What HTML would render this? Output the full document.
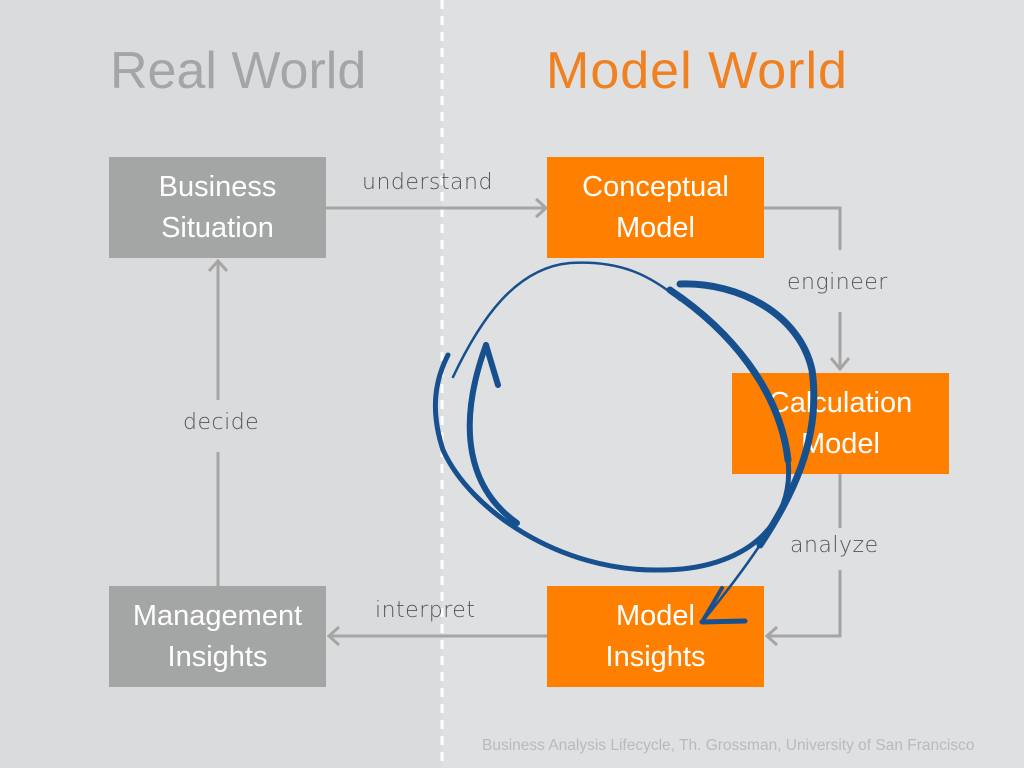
<!DOCTYPE html>
<html><head><style>
html,body{margin:0;padding:0}
body{width:1024px;height:768px;position:relative;background:#dfe0e2;font-family:"Liberation Sans",sans-serif;overflow:hidden}
.left{position:absolute;left:0;top:0;width:442px;height:768px;background:#dadbdd}
.t{position:absolute;font-size:52px;font-weight:normal;top:41px;letter-spacing:0px}
.box{position:absolute;width:217px;height:101px;color:#fff;font-size:29px;line-height:41px;text-align:center;display:flex;align-items:center;justify-content:center}
.g{background:#a4a6a5}.o{background:#ff7f00}
.lab{position:absolute;font-family:"DejaVu Sans",sans-serif;font-size:22px;color:#555;font-weight:200;letter-spacing:0.5px}
</style></head><body>
<div class="left"></div>
<svg width="1024" height="768" style="position:absolute;left:0;top:0">
<line x1="442" y1="0" x2="442" y2="768" stroke="#fff" stroke-width="3" stroke-dasharray="9,7"/>
<g stroke="#a5a5a5" stroke-width="3" fill="none">
<line x1="326" y1="208" x2="544" y2="208"/>
<polyline points="764,208 840,208 840,250"/>
<line x1="840" y1="312" x2="840" y2="368"/>
<polyline points="840,473 840,528"/>
<polyline points="840,570 840,636 768,636"/>
<line x1="547" y1="636" x2="330" y2="636"/>
<line x1="218" y1="586" x2="218" y2="452"/>
<line x1="218" y1="400" x2="218" y2="263"/>
<polyline points="536,199 546,208 536,217"/>
<polyline points="831,358 840,369 849,358"/>
<polyline points="777,627 767,636 777,645"/>
<polyline points="339,627 329,636 339,645"/>
<polyline points="209,271 218,261 227,271"/>
</g>
</svg>
<div class="t" style="left:110px;color:#a3a5a6">Real World</div>
<div class="t" style="left:546px;color:#f08020;letter-spacing:1px">Model World</div>
<div class="box g" style="left:109px;top:157px">Business<br>Situation</div>
<div class="box g" style="left:109px;top:586px">Management<br>Insights</div>
<div class="box o" style="left:547px;top:157px">Conceptual<br>Model</div>
<div class="box o" style="left:732px;top:373px">Calculation<br>Model</div>
<div class="box o" style="left:547px;top:586px">Model<br>Insights</div>
<div class="lab" style="left:362px;top:170px">understand</div>
<div class="lab" style="left:787px;top:270px">engineer</div>
<div class="lab" style="left:790px;top:533px">analyze</div>
<div class="lab" style="left:375px;top:598px">interpret</div>
<div class="lab" style="left:183px;top:410px">decide</div>
<svg width="1024" height="768" style="position:absolute;left:0;top:0">
<g fill="none" stroke="#17508f" stroke-linecap="round">
<path d="M453,377 C480,320 515,268 570,263 C620,260 650,275 680,300" stroke-width="2.5"/>
<path d="M670,290 C730,330 780,390 788,460" stroke-width="7"/>
<path d="M788,460 C795,525 745,570 660,570 C560,572 470,510 443,450 C430,410 435,380 448,355" stroke-width="5"/>
<path d="M680,284 C740,282 800,315 812,370 C822,440 790,500 760,545" stroke-width="7"/>
<path d="M760,545 C740,575 720,600 702,622" stroke-width="2.5"/>
<path d="M517,523 C470,490 455,430 486,345" stroke-width="6"/>
<path d="M486,345 L498,385" stroke-width="6"/>
<path d="M702,622 L745,621" stroke-width="5"/>
<path d="M702,622 L722,588" stroke-width="4"/>
</g>
</svg>
<div style="position:absolute;left:482px;top:737px;font-size:15.5px;color:#b8babb">Business Analysis Lifecycle, Th. Grossman, University of San Francisco</div>
</body></html>
